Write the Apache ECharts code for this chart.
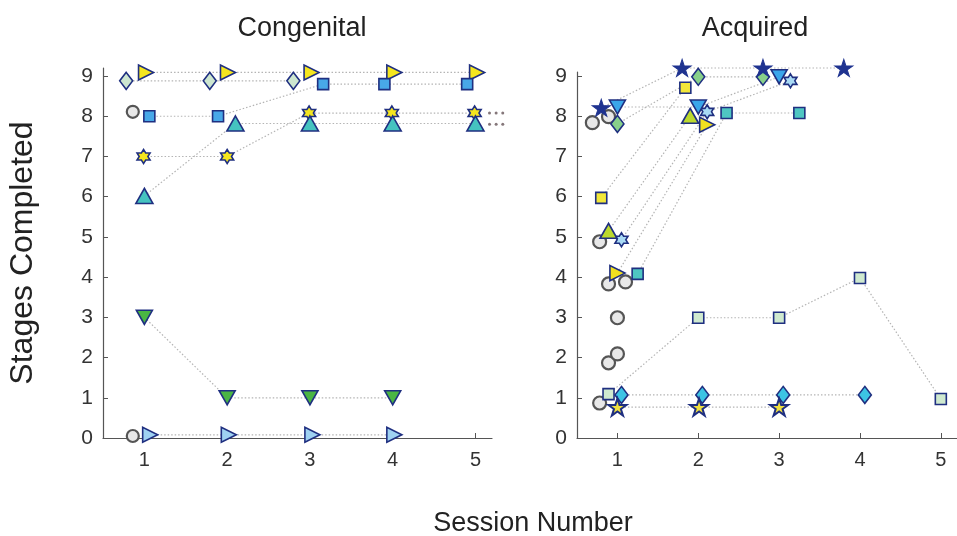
<!DOCTYPE html>
<html><head><meta charset="utf-8">
<script src="https://cdn.jsdelivr.net/npm/echarts@6/dist/echarts.min.js"></script>
<style>html,body{margin:0;padding:0;background:#fff}#c{width:957px;height:536px}</style>
</head><body><div id="c"></div><script>
const xTicks=[1,2,3,4,5];
const yTicks=[0,1,2,3,4,5,6,7,8,9];
const panelTitles=['Congenital','Acquired'];
const yName='Stages Completed';
const xName='Session Number';
// Congenital
const cDiamond=[[0.78,8.88],[1.79,8.88],[2.8,8.88]];
const cRightYellow=[[1.02,9.09],[2.01,9.09],[3.02,9.09],[4.02,9.09],[5.02,9.09]];
const cCircleA=[[0.86,8.11]];
const cSquare=[[1.06,8.0],[1.89,8.0],[3.16,8.8],[3.9,8.8],[4.9,8.8]];
const cHexagram=[[0.99,7.0],[2.0,7.0],[2.99,8.08],[3.99,8.08],[4.99,8.08]];
const cTriUp=[[1.0,6.02],[2.1,7.82],[3.0,7.82],[4.0,7.82],[5.0,7.82]];
const cTriDown=[[1.0,3.0],[2.0,1.0],[3.0,1.0],[4.0,1.0]];
const cRightBlue=[[1.07,0.08],[2.02,0.08],[3.03,0.08],[4.02,0.08]];
const cCircleB=[[0.86,0.05]];
const cTailDots=[[5.17,8.08],[5.25,8.08],[5.33,8.08],[5.17,7.8],[5.25,7.8],[5.33,7.8]];
// Acquired
const aCircles=[[0.69,7.84],[0.89,7.99],[0.78,4.88],[0.89,3.83],[1.1,3.88],[1.0,2.99],[0.89,1.87],[1.0,2.09],[0.78,0.87]];
const aStar=[[0.8,8.21],[1.8,9.2],[2.8,9.2],[3.8,9.2]];
const aTriDown=[[1.0,8.23],[2.0,8.23],[3.0,8.98]];
const aDiamond=[[1.0,7.81],[2.0,8.98],[2.8,8.98]];
const aSquareYellow=[[0.8,5.97],[1.84,8.71]];
const aTriUp=[[0.89,5.15],[1.9,8.01]];
const aHexagram=[[1.05,4.93],[2.11,8.11],[3.14,8.88]];
const aRightYellow=[[1.0,4.1],[2.11,7.79]];
const aSquareTeal=[[1.25,4.08],[2.35,8.08],[3.25,8.08]];
const aSquarePale=[[0.89,1.09],[2.0,2.99],[3.0,2.99],[4.0,3.98],[5.0,0.97]];
const aDiamondCyan=[[1.05,1.07],[2.05,1.07],[3.05,1.07],[4.06,1.07]];
const aStarYellow=[[1.0,0.77],[2.01,0.77],[3.0,0.77]];

const EDGE='#1f2f80';
const STAR='path://M0,-10L2.245,-3.09L9.511,-3.09L3.633,1.18L5.878,8.09L0,3.82L-5.878,8.09L-3.633,1.18L-9.511,-3.09L-2.245,-3.09Z';
const HEX='path://M0,-10L2.887,-5L8.66,-5L5.774,0L8.66,5L2.887,5L0,10L-2.887,5L-8.66,5L-5.774,0L-8.66,-5L-2.887,-5Z';
const FONT='Liberation Sans, Arial, sans-serif';

const series=[];
function mk(p,data,symbol,size,fill,o){
  o=o||{};
  if(o.line!==false && data.length>1){
    series.push({type:'line',xAxisIndex:p,yAxisIndex:p,data:data,showSymbol:false,symbol:'none',silent:true,clip:false,z:2,
      lineStyle:{color:'#b4b4b4',width:1.2,type:[1.5,2]},animation:false});
  }
  series.push({type:'scatter',xAxisIndex:p,yAxisIndex:p,data:data,symbol:symbol,symbolSize:size,symbolRotate:o.rot||0,clip:false,z:3,
    itemStyle:{color:fill,borderColor:o.edge||EDGE,borderWidth:o.bw===undefined?1.6:o.bw,opacity:1},animation:false});
}
const CIRC={edge:'#555',bw:2.2,line:false};
// Congenital
mk(0,cDiamond,'diamond',[13,17],'#cde6d0');
mk(0,cRightYellow,'triangle',[15,15],'#f5e61e',{rot:-90});
mk(0,cCircleA,'circle',12,'#e8e8e8',CIRC);
mk(0,cSquare,'rect',11,'#48a8e8');
mk(0,cHexagram,HEX,[13,14],'#f5e61e');
mk(0,cTriUp,'triangle',[17,15],'#45c3c0');
mk(0,cTriDown,'triangle',[16,14],'#4ab543',{rot:180});
mk(0,cRightBlue,'triangle',[15,15],'#9fd2f2',{rot:-90});
mk(0,cCircleB,'circle',12,'#e8e8e8',CIRC);
mk(0,cTailDots,'circle',3,'#85777a',{line:false,bw:0});
// Acquired
mk(1,aCircles,'circle',13,'#e8e8e8',CIRC);
mk(1,aSquarePale,'rect',11,'#cfe9cf');
mk(1,aDiamondCyan,'diamond',[13,17],'#3cc4e4');
mk(1,aStarYellow,STAR,[18,17],'#f0e040',{bw:2});
mk(1,aSquareTeal,'rect',11,'#4fc6c2');
mk(1,aRightYellow,'triangle',[15,15],'#f2e020',{rot:-90});
mk(1,aHexagram,HEX,[13,14],'#a9daf5');
mk(1,aTriUp,'triangle',[17,15],'#bcd92e');
mk(1,aSquareYellow,'rect',11,'#f2e73a');
mk(1,aDiamond,'diamond',[13,17],'#88d08a');
mk(1,aTriDown,'triangle',[16,14],'#3aa6ea',{rot:180});
mk(1,aStar,STAR,[18,17],'#1f3390',{edge:'#1f3390',bw:1});

function xa(i){return {type:'value',gridIndex:i,min:0.5,max:5.2,
  axisLine:{show:true,lineStyle:{color:'#555',width:1.2}},
  axisTick:{show:true,inside:true,length:5,customValues:xTicks,lineStyle:{color:'#555'}},
  axisLabel:{customValues:xTicks,color:'#333',fontSize:20,fontFamily:FONT,margin:12},
  splitLine:{show:false}};}
function ya(i,max){return {type:'value',gridIndex:i,min:0,max:max,
  axisLine:{show:true,lineStyle:{color:'#555',width:1.2}},
  axisTick:{show:true,inside:true,length:5,customValues:yTicks,lineStyle:{color:'#555'}},
  axisLabel:{customValues:yTicks,color:'#333',fontSize:21,fontFamily:FONT,margin:10},
  splitLine:{show:false}};}
const y0=ya(0,9.2);
y0.name=yName;y0.nameLocation='middle';y0.nameGap=64;
y0.nameTextStyle={fontSize:32,fontFamily:FONT,color:'#222'};

const chart=echarts.init(document.getElementById('c'),null,{renderer:'canvas'});
chart.setOption({
  backgroundColor:'#fff',animation:false,
  title:[
    {text:panelTitles[0],left:297,top:10,textAlign:'center',textStyle:{fontSize:27,fontWeight:'normal',fontFamily:FONT,color:'#222'}},
    {text:panelTitles[1],left:750,top:10,textAlign:'center',textStyle:{fontSize:27,fontWeight:'normal',fontFamily:FONT,color:'#222'}},
    {text:xName,left:528,top:505,textAlign:'center',textStyle:{fontSize:27,fontWeight:'normal',fontFamily:FONT,color:'#222'}}
  ],
  grid:[{left:103,top:68,width:389,height:370},{left:577,top:72,width:390,height:366}],
  xAxis:[xa(0),xa(1)],
  yAxis:[y0,ya(1,9.1)],
  series:series
});
</script></body></html>
